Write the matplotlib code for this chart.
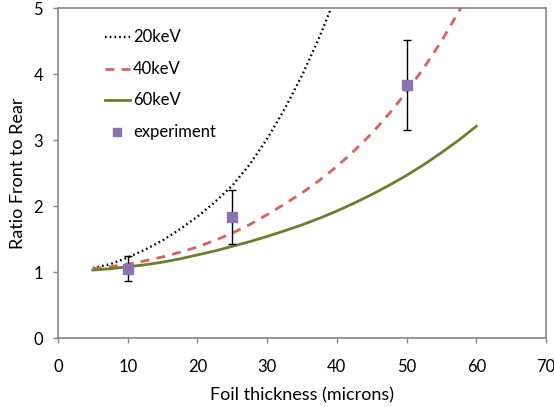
import matplotlib
matplotlib.use("Agg")
import matplotlib.pyplot as plt

plt.rcParams['font.family'] = ['Lato', 'DejaVu Sans']

x20 = [5, 7.5, 10, 12.5, 15, 17.5, 20, 22.5, 25, 27.5, 30, 32.5, 35, 37.5, 40]
y20 = [1.06, 1.12, 1.22, 1.34, 1.48, 1.65, 1.84, 2.06, 2.31, 2.63, 3.02, 3.47, 3.98, 4.56, 5.22]

x40 = [5, 7.5, 10, 12.5, 15, 17.5, 20, 22.5, 25, 27.5, 30, 32.5, 35, 37.5, 40,
       42.5, 45, 47.5, 50, 52.5, 55, 57.5, 60]
y40 = [1.05, 1.08, 1.12, 1.17, 1.23, 1.30, 1.38, 1.48, 1.59, 1.72, 1.87, 2.03, 2.20, 2.39, 2.60,
       2.84, 3.10, 3.40, 3.73, 4.10, 4.50, 4.95, 5.43]

x60 = [5, 7.5, 10, 12.5, 15, 17.5, 20, 22.5, 25, 27.5, 30, 32.5, 35, 37.5, 40,
       42.5, 45, 47.5, 50, 52.5, 55, 57.5, 60]
y60 = [1.03, 1.05, 1.08, 1.11, 1.15, 1.20, 1.26, 1.32, 1.39, 1.46, 1.54, 1.625, 1.715, 1.815, 1.925,
       2.045, 2.175, 2.315, 2.465, 2.63, 2.81, 3.00, 3.21]

x_exp = [10, 25, 50]
y_exp = [1.05, 1.83, 3.83]
err_exp = [0.19, 0.41, 0.68]

labels = ["20keV", "40keV", "60keV", "experiment"]
xticks = [0, 10, 20, 30, 40, 50, 60, 70]
yticks = [0, 1, 2, 3, 4, 5]

fig = plt.figure(figsize=(5.54, 4.07), dpi=100)
ax = fig.add_axes([0.1047, 0.1695, 0.8809, 0.8105])

c20 = "black"
c40 = "#D9625E"
c60 = "#6B7F2E"
cexp = "#8B72B5"

st20 = dict(color=c20, lw=1.7, linestyle=(0, (0.7, 1.3)))
st40 = dict(color=c40, lw=2.0, linestyle=(0, (3.2, 2.6)))
st60 = dict(color=c60, lw=2.0, linestyle='-')

ax.plot(x20, y20, **st20)
ax.plot(x40, y40, **st40)
ax.plot(x60, y60, **st60)
ax.errorbar(x_exp, y_exp, yerr=err_exp, fmt='none', ecolor='black', elinewidth=1.0,
            capsize=2.8, capthick=1.0, zorder=4)
ax.plot(x_exp, y_exp, linestyle='none', marker='s', markersize=6.5, color=cexp, zorder=5)

# legend drawn manually (rows in axes fraction)
rows = [0.912, 0.815, 0.721, 0.624]
hx0, hx1, tx = 0.0963, 0.1475, 0.1537
for r, st, lab in zip(rows[:3], [st20, st40, st60], labels[:3]):
    ax.plot([hx0, hx1], [r, r], transform=ax.transAxes, clip_on=False, **st)
    ax.text(tx, r, lab, transform=ax.transAxes, fontsize=12, va='center', ha='left')
ax.plot([(hx0 + hx1) / 2], [rows[3]], transform=ax.transAxes, marker='s', markersize=5.5,
        color=cexp, linestyle='none', clip_on=False)
ax.text(tx, rows[3], labels[3], transform=ax.transAxes, fontsize=12, va='center', ha='left')

ax.set_xlim(0, 70)
ax.set_ylim(0, 5)
ax.set_xticks(xticks)
ax.set_yticks(yticks)
ax.tick_params(axis='both', labelsize=12, color='#868686', length=3.8, width=1, direction='out')
ax.tick_params(axis='x', pad=11)
ax.tick_params(axis='y', pad=7)
for s in ax.spines.values():
    s.set_color('#868686')
    s.set_linewidth(1.2)

ax.set_xlabel("Foil thickness (microns)", fontsize=13, labelpad=9)
ax.set_ylabel("Ratio Front to Rear", fontsize=13, labelpad=5.5)

fig.savefig("out.png", dpi=100)
